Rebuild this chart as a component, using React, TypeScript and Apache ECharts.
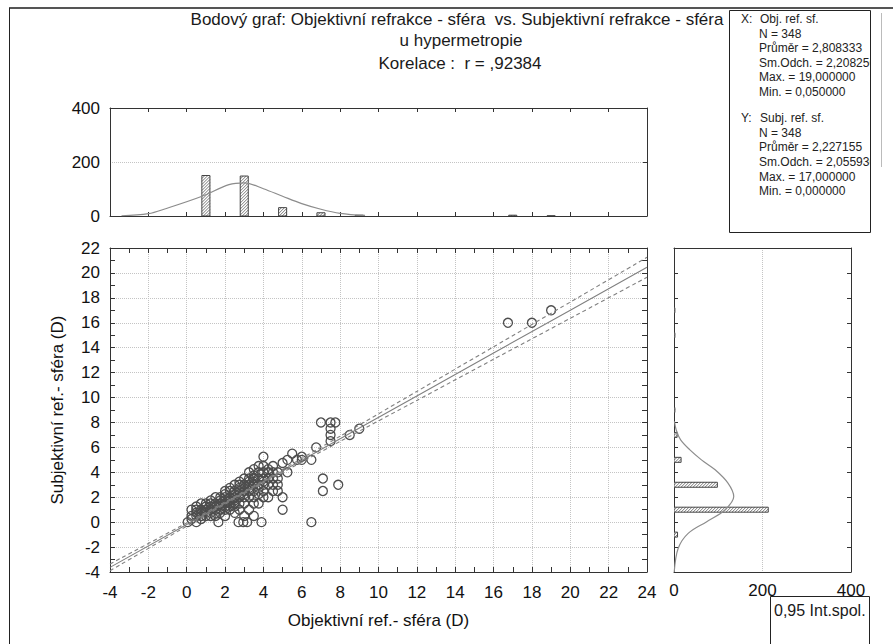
import React, { useEffect, useRef } from 'react';
import * as echarts from 'echarts';

const FONT = '"Liberation Sans", Arial, Helvetica, sans-serif';

// ---------- data ----------
const titleLines = [
  'Bodový graf: Objektivní refrakce - sféra  vs. Subjektivní refrakce - sféra',
  'u hypermetropie',
  'Korelace :  r = ,92384',
];

const statsX = ['N = 348', 'Průměr = 2,808333', 'Sm.Odch. = 2,208250', 'Max. = 19,000000', 'Min. = 0,050000'];
const statsY = ['N = 348', 'Průměr = 2,227155', 'Sm.Odch. = 2,055930', 'Max. = 17,000000', 'Min. = 0,000000'];

// top histogram (objective refraction)
const topBins = [1, 3, 5, 7, 9, 11, 13, 15, 17, 19];
const topCounts = [150, 148, 31, 12, 3, 0, 0, 0, 3, 1];
const topCurveX = [-3.4, -2, -1.1, 0.8, 2.2, 3, 4, 5, 6, 7, 8, 9.3];
const topCurveY = [1, 8.6, 27, 73, 116, 123, 101, 73, 46, 25, 10, 2];

// right histogram (subjective refraction)
const rightBins = [-1, 1, 3, 5, 7, 9, 15, 17];
const rightCounts = [8, 213, 98, 16, 7, 2, 2, 2];
const rightCurveY = [-4, -2.1, -0.9, 0.04, 0.98, 2.05, 3.13, 4.2, 5.0, 5.8, 6.6, 7.4, 8.1];
const rightCurveN = [0.5, 9.5, 32, 74, 115, 135, 122, 93, 62, 36, 15, 5, 1];

// regression line and 0.95 confidence band
const fitX = [-4, 0, 2.8, 4, 8, 12, 16, 20, 24];
const fitY = [-3.63, -0.19, 2.22, 3.25, 6.69, 10.13, 13.57, 17.01, 20.45];
const upperY = [-3.36, -0.06, 2.3, 3.34, 6.9, 10.49, 14.07, 17.66, 21.25];
const lowerY = [-3.9, -0.32, 2.14, 3.16, 6.48, 9.77, 13.07, 16.36, 19.65];

// scatter points [objective, subjective]
const points: [number, number][] = [
  [0.05, 0], [0.25, 0.25], [0.25, 0.5], [0.25, 1],
  [0.5, 0], [0.5, 0.5], [0.5, 0.75], [0.5, 1], [0.5, 1.25],
  [0.75, 0.25], [0.75, 0.5], [0.75, 0.75], [0.75, 1], [0.75, 1.5],
  [1, 0.5], [1, 0.75], [1, 1], [1, 1.25], [1, 1.5],
  [1.25, 0.5], [1.25, 0.75], [1.25, 1], [1.25, 1.25], [1.25, 1.5], [1.25, 1.75],
  [1.5, 0.5], [1.5, 0.75], [1.5, 1], [1.5, 1.25], [1.5, 1.5], [1.5, 2],
  [1.65, 0], [1.75, 0.75], [1.75, 1], [1.75, 1.25], [1.75, 1.5], [1.75, 1.75], [1.75, 2],
  [2, 0.5], [2, 1], [2, 1.25], [2, 1.5], [2, 1.75], [2, 2], [2, 2.25], [2, 2.5],
  [2.25, 1], [2.25, 1.25], [2.25, 1.5], [2.25, 1.75], [2.25, 2], [2.25, 2.5], [2.25, 2.75],
  [2.5, 0.75], [2.5, 1.25], [2.5, 1.5], [2.5, 1.75], [2.5, 2], [2.5, 2.25], [2.5, 2.5], [2.5, 3],
  [2.7, 0], [2.75, 1], [2.75, 1.5], [2.75, 2], [2.75, 2.25], [2.75, 2.5], [2.75, 2.75], [2.75, 3], [2.75, 3.25],
  [2.95, 0], [3, 0.5], [3, 1.5], [3, 2], [3, 2.25], [3, 2.5], [3, 2.75], [3, 3], [3, 3.5],
  [3.15, 0], [3.25, 1], [3.25, 2], [3.25, 2.5], [3.25, 2.75], [3.25, 3], [3.25, 3.25], [3.25, 3.5], [3.25, 4],
  [3.5, 0.5], [3.5, 1.5], [3.5, 2], [3.5, 2.5], [3.5, 3], [3.5, 3.25], [3.5, 3.5], [3.5, 3.75], [3.5, 4.25],
  [3.75, 1.5], [3.75, 2.25], [3.75, 2.75], [3.75, 3], [3.75, 3.5], [3.75, 4], [3.75, 4.5],
  [3.9, 0], [4, 2], [4, 2.5], [4, 3], [4, 3.25], [4, 3.5], [4, 4], [4, 4.5], [4, 5.25],
  [4.25, 2], [4.25, 3], [4.25, 3.5], [4.25, 4], [4.25, 4.25],
  [4.5, 2.5], [4.5, 3], [4.5, 3.5], [4.5, 4], [4.5, 4.5],
  [4.75, 2.5], [4.75, 3], [4.75, 3.5], [4.75, 4],
  [5, 1], [5, 2], [5, 4.75], [5.25, 4], [5.25, 5], [5.5, 5.5], [5.75, 5], [6, 5], [6, 5.25],
  [6.5, 0], [6.5, 5], [6.75, 6], [7, 8], [7.1, 2.5], [7.1, 3.5],
  [7.5, 6.5], [7.5, 7], [7.5, 7.5], [7.5, 8], [7.75, 8], [7.9, 3],
  [8.5, 7], [9, 7.5], [16.75, 16], [18, 16], [19, 17],
];

// ---------- styles ----------
const AXIS = '#333';
const GRIDC = '#c4c4c4';
const FS = 17;
const TOP_BAR_W = 0.42;
const RIGHT_BAR_W = 0.4;

function hatchGroup(x0: number, y0: number, w: number, h: number) {
  const children: any[] = [
    { type: 'rect', shape: { x: x0, y: y0, width: w, height: h }, style: { fill: '#fff', stroke: 'none' } },
  ];
  const step = 3;
  for (let c = x0 + y0; c <= x0 + w + y0 + h; c += step) {
    const xa = Math.max(x0, c - y0 - h);
    const xb = Math.min(x0 + w, c - y0);
    if (xb > xa) {
      children.push({
        type: 'line',
        shape: { x1: xa, y1: c - xa, x2: xb, y2: c - xb },
        style: { stroke: '#555', lineWidth: 0.8 },
      });
    }
  }
  children.push({
    type: 'rect',
    shape: { x: x0, y: y0, width: w, height: h },
    style: { fill: 'none', stroke: '#444', lineWidth: 1 },
  });
  return { type: 'group', children };
}

const tickInside = (len: number) => ({ show: true, inside: true, length: len, lineStyle: { color: AXIS } });
const line = (color = AXIS) => ({ show: true, onZero: false, lineStyle: { color, width: 1 } });
const labelStyle = (margin: number) => ({ fontSize: FS, color: '#111', fontFamily: FONT, margin });
const dotted = { show: true, lineStyle: { color: GRIDC, type: 'dotted' as const, width: 1 } };

export default function App() {
  const ref = useRef<HTMLDivElement>(null);
  useEffect(() => {
    if (!ref.current) return;
    const chart = echarts.init(ref.current, undefined, { renderer: 'svg' });

    const statText = (text: string, x: number, y: number) => ({
      type: 'text', x, y, z: 101,
      style: { text, fontSize: 12, fontFamily: FONT, fill: '#222', verticalAlign: 'middle', align: 'left' },
    });
    const statY0 = 19;
    const statStep = 14.6;
    const statsGraphics: any[] = [
      { type: 'rect', z: 100, shape: { x: 729.5, y: 10.5, width: 141, height: 222 }, style: { fill: '#fff', stroke: 'none' } },
      statText('X:', 741, statY0),
      statText('Obj. ref. sf.', 760, statY0),
      ...statsX.map((t, i) => statText(t, 759, statY0 + statStep * (i + 1))),
      statText('Y:', 741, statY0 + statStep * 6.8),
      statText('Subj. ref. sf.', 760, statY0 + statStep * 6.8),
      ...statsY.map((t, i) => statText(t, 759, statY0 + statStep * (i + 7.8))),
      { type: 'rect', z: 102, shape: { x: 871, y: 11, width: 9, height: 223 }, style: { fill: '#fff', stroke: 'none' } },
      { type: 'rect', z: 103, shape: { x: 729.5, y: 10.5, width: 141, height: 222 }, style: { fill: 'none', stroke: '#222', lineWidth: 1 } },
    ];

    const option: any = {
      animation: false,
      backgroundColor: '#fff',
      textStyle: { fontFamily: FONT },
      grid: [
        { left: 110, top: 108, width: 537, height: 108 },
        { left: 110, top: 248, width: 537, height: 324 },
        { left: 674, top: 248, width: 177, height: 324 },
      ],
      xAxis: [
        { gridIndex: 0, type: 'value', min: -4, max: 24, interval: 2, position: 'bottom', axisLine: line(), axisTick: tickInside(4), axisLabel: { show: false }, splitLine: { show: false } },
        { gridIndex: 0, type: 'value', min: -4, max: 24, interval: 2, position: 'top', axisLine: line(), axisTick: tickInside(4), axisLabel: { show: false }, splitLine: { show: false } },
        {
          gridIndex: 1, type: 'value', min: -4, max: 24, interval: 2, position: 'bottom',
          axisLine: line(), axisTick: tickInside(5),
          minorTick: { show: true, splitNumber: 2, length: 5, lineStyle: { color: AXIS } },
          axisLabel: labelStyle(12), splitLine: dotted,
          name: 'Objektivní ref.- sféra (D)', nameLocation: 'middle', nameGap: 40,
          nameTextStyle: { fontSize: FS, color: '#111', fontFamily: FONT },
        },
        {
          gridIndex: 1, type: 'value', min: -4, max: 24, interval: 2, position: 'top',
          axisLine: line(), axisTick: tickInside(5),
          minorTick: { show: true, splitNumber: 2, length: 5, lineStyle: { color: AXIS } },
          axisLabel: { show: false }, splitLine: { show: false },
        },
        { gridIndex: 2, type: 'value', min: 0, max: 400, interval: 200, position: 'bottom', axisLine: line(), axisTick: { show: false }, axisLabel: labelStyle(10), splitLine: dotted },
        { gridIndex: 2, type: 'value', min: 0, max: 400, interval: 200, position: 'top', axisLine: line(), axisTick: { show: false }, axisLabel: { show: false }, splitLine: { show: false } },
      ],
      yAxis: [
        { gridIndex: 0, type: 'value', min: 0, max: 400, interval: 200, position: 'left', axisLine: line(), axisTick: { show: false }, axisLabel: labelStyle(10), splitLine: dotted },
        { gridIndex: 0, type: 'value', min: 0, max: 400, interval: 200, position: 'right', axisLine: line(), axisTick: tickInside(4), axisLabel: { show: false }, splitLine: { show: false } },
        {
          gridIndex: 1, type: 'value', min: -4, max: 22, interval: 2, position: 'left',
          axisLine: line(), axisTick: tickInside(5),
          minorTick: { show: true, splitNumber: 2, length: 5, lineStyle: { color: AXIS } },
          axisLabel: labelStyle(10), splitLine: dotted,
          name: 'Subjektivní ref.- sféra (D)', nameLocation: 'middle', nameGap: 44,
          nameTextStyle: { fontSize: FS, color: '#111', fontFamily: FONT },
        },
        {
          gridIndex: 1, type: 'value', min: -4, max: 22, interval: 2, position: 'right',
          axisLine: line(), axisTick: tickInside(5),
          minorTick: { show: true, splitNumber: 2, length: 5, lineStyle: { color: AXIS } },
          axisLabel: { show: false }, splitLine: { show: false },
        },
        { gridIndex: 2, type: 'value', min: -4, max: 22, interval: 2, position: 'left', axisLine: line(), axisTick: tickInside(4), axisLabel: { show: false }, splitLine: { show: false } },
        { gridIndex: 2, type: 'value', min: -4, max: 22, interval: 2, position: 'right', axisLine: line(), axisTick: tickInside(4), axisLabel: { show: false }, splitLine: { show: false } },
      ],
      series: [
        {
          type: 'custom', xAxisIndex: 0, yAxisIndex: 0, clip: true,
          data: topBins.map((b, i) => [b, topCounts[i]]),
          renderItem: (_p: any, api: any) => {
            const c = api.value(0);
            const v = api.value(1);
            if (!v) return null;
            const a = api.coord([c - TOP_BAR_W / 2, v]);
            const b = api.coord([c + TOP_BAR_W / 2, 0]);
            return hatchGroup(a[0], a[1], b[0] - a[0], b[1] - a[1]);
          },
        },
        {
          type: 'line', xAxisIndex: 0, yAxisIndex: 0, smooth: 0.35, showSymbol: false,
          data: topCurveX.map((x, i) => [x, topCurveY[i]]),
          lineStyle: { color: '#8c8c8c', width: 1.2 }, z: 3,
        },
        {
          type: 'scatter', xAxisIndex: 2, yAxisIndex: 2, symbol: 'circle', symbolSize: 9,
          data: points,
          itemStyle: { color: 'rgba(255,255,255,0)', borderColor: '#4d4d4d', borderWidth: 1.3, opacity: 1 },
        },
        {
          type: 'line', xAxisIndex: 2, yAxisIndex: 2, showSymbol: false,
          data: fitX.map((x, i) => [x, fitY[i]]),
          lineStyle: { color: '#808080', width: 1.1 }, z: 4,
        },
        {
          type: 'line', xAxisIndex: 2, yAxisIndex: 2, showSymbol: false, smooth: 0.2,
          data: fitX.map((x, i) => [x, upperY[i]]),
          lineStyle: { color: '#808080', width: 1.1, type: [4, 3] }, z: 4,
        },
        {
          type: 'line', xAxisIndex: 2, yAxisIndex: 2, showSymbol: false, smooth: 0.2,
          data: fitX.map((x, i) => [x, lowerY[i]]),
          lineStyle: { color: '#808080', width: 1.1, type: [4, 3] }, z: 4,
        },
        {
          type: 'custom', xAxisIndex: 4, yAxisIndex: 4, clip: true,
          data: rightBins.map((b, i) => [rightCounts[i], b]),
          renderItem: (_p: any, api: any) => {
            const v = api.value(0);
            const c = api.value(1);
            if (!v) return null;
            const a = api.coord([0, c + RIGHT_BAR_W / 2]);
            const b = api.coord([v, c - RIGHT_BAR_W / 2]);
            return hatchGroup(a[0], a[1], b[0] - a[0], b[1] - a[1]);
          },
        },
        {
          type: 'line', xAxisIndex: 4, yAxisIndex: 4, smooth: 0.35, showSymbol: false,
          data: rightCurveN.map((n, i) => [n, rightCurveY[i]]),
          lineStyle: { color: '#8c8c8c', width: 1.2 }, z: 3,
        },
      ],
      graphic: [
        { type: 'line', shape: { x1: 9, y1: 8, x2: 893, y2: 8 }, style: { stroke: '#555', lineWidth: 2 } },
        { type: 'line', shape: { x1: 9.5, y1: 8, x2: 9.5, y2: 644 }, style: { stroke: '#222', lineWidth: 1 } },
        ...titleLines.map((t, i) => ({
          type: 'text', x: [457, 461, 460][i], y: [19, 40, 63][i],
          style: { text: t, fontSize: FS, fontFamily: FONT, fill: '#1a1a1a', align: 'center', verticalAlign: 'middle' },
        })),
        ...statsGraphics,
        { type: 'line', shape: { x1: 881.5, y1: 13, x2: 881.5, y2: 167 }, style: { stroke: '#bbb', lineWidth: 1 } },
        { type: 'rect', z: 100, shape: { x: 770.5, y: 596.5, width: 99, height: 60 }, style: { fill: '#fff', stroke: '#222', lineWidth: 1 } },
        {
          type: 'text', z: 101, x: 774, y: 610,
          style: { text: '0,95 Int.spol.', fontSize: 16, fontFamily: FONT, fill: '#1a1a1a', align: 'left', verticalAlign: 'middle' },
        },
      ],
    };
    chart.setOption(option);
    return () => chart.dispose();
  }, []);
  return <div ref={ref} style={{ position: 'absolute', left: 0, top: 0, width: 893, height: 644, background: '#fff' }} />;
}
